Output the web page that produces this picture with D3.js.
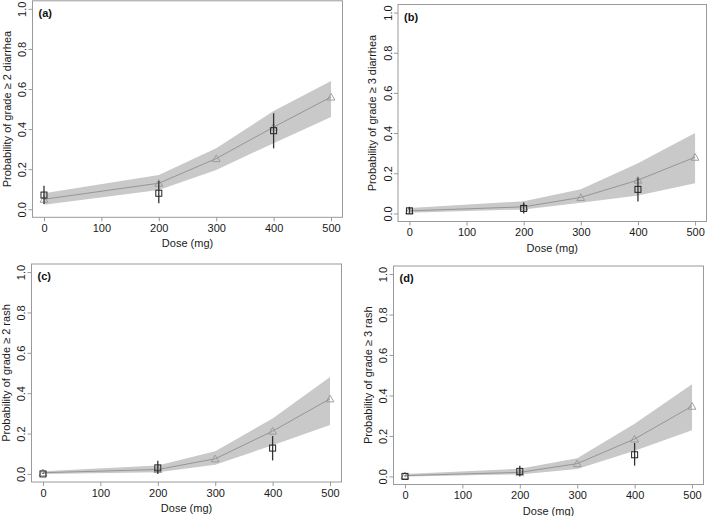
<!DOCTYPE html>
<html>
<head>
<meta charset="utf-8">
<script src="https://cdn.jsdelivr.net/npm/d3@7"></script>
<style>
  html, body { margin: 0; padding: 0; background: #fff; }
  svg { display: block; font-family: "Liberation Sans", Arial, Helvetica, sans-serif; }
</style>
</head>
<body>
<svg id="chart" width="709" height="516"></svg>
<script>
// ---------- DATA ----------
const doses = [0, 200, 300, 400, 500];
const obsDoses = [0, 200, 400];
const xTicks = [0, 100, 200, 300, 400, 500];
const yTicks = [0.0, 0.2, 0.4, 0.6, 0.8, 1.0];
const yTickLabels = ["0.0", "0.2", "0.4", "0.6", "0.8", "1.0"];
const panelTags = ["(a)", "(b)", "(c)", "(d)"];
const yTitles = [
  "Probability of grade \u2265 2 diarrhea",
  "Probability of grade \u2265 3 diarrhea",
  "Probability of grade \u2265 2 rash",
  "Probability of grade \u2265 3 rash"
];
const xTitle = "Dose (mg)";

// model prediction (median) and prediction band, per panel
const predA = [0.050, 0.130, 0.253, 0.410, 0.560];
const lowA  = [0.022, 0.096, 0.196, 0.330, 0.460];
const upA   = [0.080, 0.171, 0.304, 0.490, 0.640];

const predB = [0.013, 0.033, 0.080, 0.166, 0.280];
const lowB  = [0.004, 0.020, 0.053, 0.090, 0.150];
const upB   = [0.027, 0.061, 0.120, 0.250, 0.400];

const predC = [0.006, 0.022, 0.075, 0.212, 0.372];
const lowC  = [0.000, 0.008, 0.045, 0.142, 0.242];
const upC   = [0.013, 0.042, 0.112, 0.275, 0.480];

const predD = [0.004, 0.020, 0.063, 0.185, 0.347];
const lowD  = [0.000, 0.010, 0.036, 0.127, 0.228];
const upD   = [0.012, 0.038, 0.090, 0.260, 0.455];

// observed proportions with confidence intervals
const obsA   = [0.071, 0.080, 0.392];
const obsLoA = [0.026, 0.030, 0.304];
const obsHiA = [0.118, 0.141, 0.479];

const obsB   = [0.013, 0.025, 0.120];
const obsLoB = [0.000, 0.000, 0.060];
const obsHiB = [0.033, 0.055, 0.178];

const obsC   = [0.000, 0.030, 0.128];
const obsLoC = [0.000, 0.000, 0.067];
const obsHiC = [0.006, 0.065, 0.188];

const obsD   = [0.000, 0.025, 0.107];
const obsLoD = [0.000, 0.000, 0.053];
const obsHiD = [0.005, 0.053, 0.165];

const series = [
  {pred: predA, low: lowA, up: upA, obs: obsA, lo: obsLoA, hi: obsHiA},
  {pred: predB, low: lowB, up: upB, obs: obsB, lo: obsLoB, hi: obsHiB},
  {pred: predC, low: lowC, up: upC, obs: obsC, lo: obsLoC, hi: obsHiC},
  {pred: predD, low: lowD, up: upD, obs: obsD, lo: obsLoD, hi: obsHiD}
];

// ---------- LAYOUT (pixel geometry of each panel's plot box) ----------
const boxes = [
  {x0: 32.5, x1: 342.5, y0: 0.8,   y1: 217.3},
  {x0: 398.0, x1: 706.5, y0: 4.5,  y1: 221.5},
  {x0: 31.5, x1: 341.5, y0: 264.0, y1: 482.0},
  {x0: 393.5, x1: 703.5, y0: 266.0, y1: 484.5}
];

const svg = d3.select("#chart");
const FS = 11;
const boxColor = "#9a9a9a";
const textColor = "#1a1a1a";

boxes.forEach((b, i) => {
  const s = series[i];
  const x = d3.scaleLinear().domain([-20, 520]).range([b.x0, b.x1]);
  const y = d3.scaleLinear().domain([-0.04, 1.04]).range([b.y1, b.y0]);
  const g = svg.append("g");

  // band
  const area = d3.area()
    .x((d, k) => x(doses[k]))
    .y0((d, k) => y(s.low[k]))
    .y1((d, k) => y(s.up[k]));
  g.append("path").datum(doses).attr("d", area)
    .attr("fill", "#c9c9c9").attr("stroke", "none");

  // prediction line
  const line = d3.line().x((d, k) => x(doses[k])).y((d, k) => y(s.pred[k]));
  g.append("path").datum(doses).attr("d", line)
    .attr("fill", "none").attr("stroke", "#969696").attr("stroke-width", 1);

  // triangles
  const tri = d3.symbol().type(d3.symbolTriangle).size(26);
  g.selectAll("path.tri").data(doses).enter().append("path")
    .attr("class", "tri")
    .attr("d", tri)
    .attr("transform", (d, k) => `translate(${x(d)},${y(s.pred[k]) + 0.8})`)
    .attr("fill", "none").attr("stroke", "#969696").attr("stroke-width", 0.9);

  // error bars
  g.selectAll("line.err").data(obsDoses).enter().append("line")
    .attr("x1", d => x(d)).attr("x2", d => x(d))
    .attr("y1", (d, k) => y(s.lo[k])).attr("y2", (d, k) => y(s.hi[k]))
    .attr("stroke", "#333").attr("stroke-width", 1.3);

  // squares
  const sq = 6;
  g.selectAll("rect.obs").data(obsDoses).enter().append("rect")
    .attr("x", d => x(d) - sq / 2)
    .attr("y", (d, k) => y(s.obs[k]) - sq / 2)
    .attr("width", sq).attr("height", sq)
    .attr("fill", "none").attr("stroke", "#222").attr("stroke-width", 1);

  // box
  g.append("rect")
    .attr("x", b.x0).attr("y", b.y0)
    .attr("width", b.x1 - b.x0).attr("height", b.y1 - b.y0)
    .attr("fill", "none").attr("stroke", boxColor).attr("stroke-width", 1);

  // x axis
  const xAxis = d3.axisBottom(x).tickValues(xTicks).tickSize(4).tickPadding(3)
    .tickFormat(d3.format("d"));
  const gx = g.append("g").attr("transform", `translate(0,${b.y1})`).call(xAxis);
  gx.select(".domain").remove();
  gx.selectAll(".tick line").attr("stroke", boxColor);
  gx.selectAll(".tick text").attr("fill", textColor)
    .style("font-size", FS + "px").style("font-family", "Liberation Sans, Arial, sans-serif");

  // y axis
  const yAxis = d3.axisLeft(y).tickValues(yTicks).tickSize(4).tickPadding(3)
    .tickFormat((d, k) => yTickLabels[k]);
  const gy = g.append("g").attr("transform", `translate(${b.x0},0)`).call(yAxis);
  gy.select(".domain").remove();
  gy.selectAll(".tick line").attr("stroke", boxColor);
  gy.selectAll(".tick text")
    .attr("fill", textColor)
    .attr("x", null).attr("dy", null)
    .attr("text-anchor", "middle")
    .attr("transform", "translate(-10,0) rotate(-90)")
    .attr("dy", "0.35em")
    .style("font-size", FS + "px").style("font-family", "Liberation Sans, Arial, sans-serif");

  // x title
  g.append("text")
    .attr("x", (x(0) + x(500)) / 2).attr("y", b.y1 + 30)
    .attr("text-anchor", "middle").attr("fill", textColor)
    .style("font-size", FS + "px")
    .text(xTitle);

  // y title
  const cy = (y(0) + y(1)) / 2;
  g.append("text")
    .attr("transform", `translate(${b.x0 - 22},${cy}) rotate(-90)`)
    .attr("text-anchor", "middle").attr("fill", textColor)
    .style("font-size", FS + "px")
    .text(yTitles[i]);

  // panel tag
  g.append("text")
    .attr("x", b.x0 + 6).attr("y", b.y0 + 16)
    .attr("fill", "#111").attr("font-weight", "bold")
    .style("font-size", FS + "px")
    .text(panelTags[i]);
});
</script>
</body>
</html>
